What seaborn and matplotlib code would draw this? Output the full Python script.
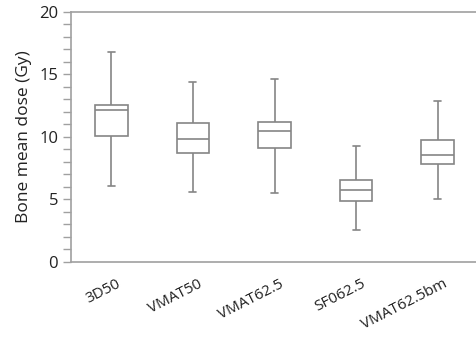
import pandas as pd
import matplotlib
matplotlib.use("Agg")
import matplotlib.pyplot as plt
import matplotlib.transforms as mtransforms
import seaborn as sns
from matplotlib.ticker import MultipleLocator

# five-number summaries: min, q1, median, q3, max
groups = ["3D50", "VMAT50", "VMAT62.5", "SF062.5", "VMAT62.5bm"]
low = [6.08, 5.60, 5.52, 2.58, 5.04]
q1 = [10.05, 8.75, 9.14, 4.90, 7.81]
median = [12.16, 9.81, 10.45, 5.73, 8.53]
q3 = [12.53, 11.12, 11.20, 6.56, 9.73]
high = [16.78, 14.37, 14.64, 9.28, 12.85]

rows = []
for i, g in enumerate(groups):
    for v in (low[i], q1[i], median[i], q3[i], high[i]):
        rows.append({"plan": g, "dose": v})
df = pd.DataFrame(rows)

sns.set_style("white")
plt.rcParams["font.family"] = ["Open Sans", "DejaVu Sans"]

fig = plt.figure(figsize=(4.77, 3.42), dpi=100)
ax = fig.add_axes([0.148, 0.234, 0.855, 0.731])

grey = "#858585"
sns.boxplot(data=df, x="plan", y="dose", order=groups, whis=(0, 100),
            width=0.4, color="white", linecolor=grey, linewidth=1.2,
            showfliers=False, capwidths=0.085, ax=ax)

ax.set_ylim(0, 20)
ax.set_xlim(-0.5, 4.5)
ax.yaxis.set_major_locator(MultipleLocator(5))
ax.yaxis.set_minor_locator(MultipleLocator(1))
ax.tick_params(axis="y", which="both", left=True, direction="out",
               length=6, width=1, color="#a0a0a0", labelsize=12,
               labelcolor="#222222", pad=3)
ax.tick_params(axis="x", bottom=False, labelsize=11, labelcolor="#222222", pad=7)
shift = mtransforms.ScaledTranslation(5 / 100, 0, fig.dpi_scale_trans)
for lbl in ax.get_xticklabels():
    lbl.set_rotation(27)
    lbl.set_ha("right")
    lbl.set_rotation_mode("anchor")
    lbl.set_transform(lbl.get_transform() + shift)

for side in ["left", "bottom", "top"]:
    ax.spines[side].set_color("#a0a0a0")
    ax.spines[side].set_linewidth(1.2)
ax.spines["right"].set_visible(False)

ax.set_xlabel("")
ax.set_ylabel("Bone mean dose (Gy)", fontsize=12.5, color="#222222", labelpad=5)

fig.savefig("out.png", dpi=100)
